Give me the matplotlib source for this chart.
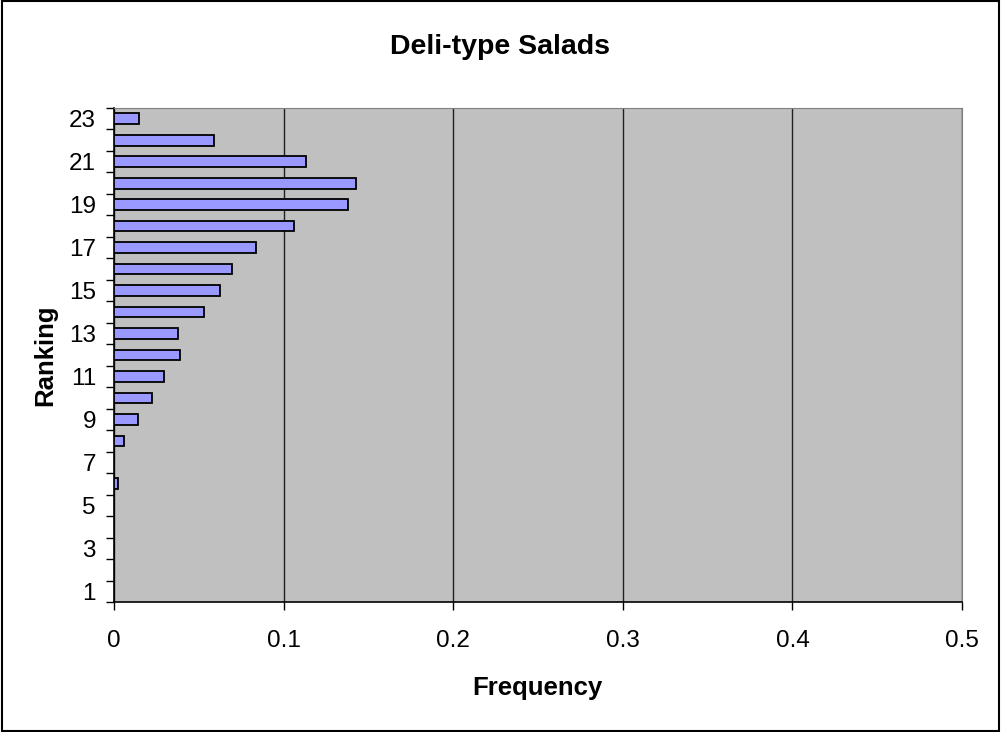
import matplotlib
matplotlib.use("Agg")
import matplotlib.pyplot as plt
from matplotlib.patches import Rectangle
from matplotlib.ticker import FixedLocator

plt.rcParams['font.family'] = ['Liberation Sans', 'DejaVu Sans']

# data
ranking = list(range(1, 24))
frequency = [0, 0, 0, 0, 0, 0.0022, 0, 0.0057, 0.0142, 0.0223, 0.0295,
             0.039, 0.0376, 0.053, 0.0626, 0.0695, 0.0839, 0.1063, 0.1378,
             0.1428, 0.113, 0.059, 0.0149]
xticks = [0, 0.1, 0.2, 0.3, 0.4, 0.5]
ytick_labels = [1, 3, 5, 7, 9, 11, 13, 15, 17, 19, 21, 23]

fig = plt.figure(figsize=(10.01, 7.32), dpi=100)
ax = fig.add_axes([0.1139, 0.1776, 0.8472, 0.6749])
ax.set_facecolor('#C0C0C0')

ax.barh(ranking, frequency, height=0.5, color='#9999FF', edgecolor='black',
        linewidth=1.3, zorder=3)

ax.set_xlim(0, 0.5)
ax.set_ylim(0.5, 23.5)
ax.set_xticks(xticks)
ax.set_xticklabels([f'{v:g}' for v in xticks], fontsize=17.5)
ax.set_yticks(ytick_labels)
ax.set_yticklabels([str(v) for v in ytick_labels], fontsize=17.5)
ax.yaxis.set_minor_locator(FixedLocator([r + 0.5 for r in range(0, 24)]))
ax.tick_params(axis='y', which='major', length=0, pad=13)
ax.tick_params(axis='y', which='minor', length=6, width=1, direction='out')
ax.tick_params(axis='x', which='major', length=6, width=1, direction='out', pad=14)

ax.grid(axis='x', color='#202020', linewidth=1, zorder=1)
ax.set_axisbelow(True)

for s in ['top', 'right']:
    ax.spines[s].set_color('#808080')
for s in ['left', 'bottom']:
    ax.spines[s].set_color('black')
    ax.spines[s].set_linewidth(1.2)

fig.text(0.5, 0.936, 'Deli-type Salads', ha='center', va='center',
         fontsize=20.5, fontweight='bold')
fig.text(0.537, 0.06, 'Frequency', ha='center', va='center',
         fontsize=18.5, fontweight='bold')
fig.text(0.045, 0.515, 'Ranking', ha='center', va='center', rotation=90,
         fontsize=18.5, fontweight='bold')

fig.patches.append(Rectangle((0.002, 0.002), 0.996, 0.996, transform=fig.transFigure,
                             fill=False, edgecolor='black', linewidth=1.5))

fig.savefig('out.png', dpi=100)
